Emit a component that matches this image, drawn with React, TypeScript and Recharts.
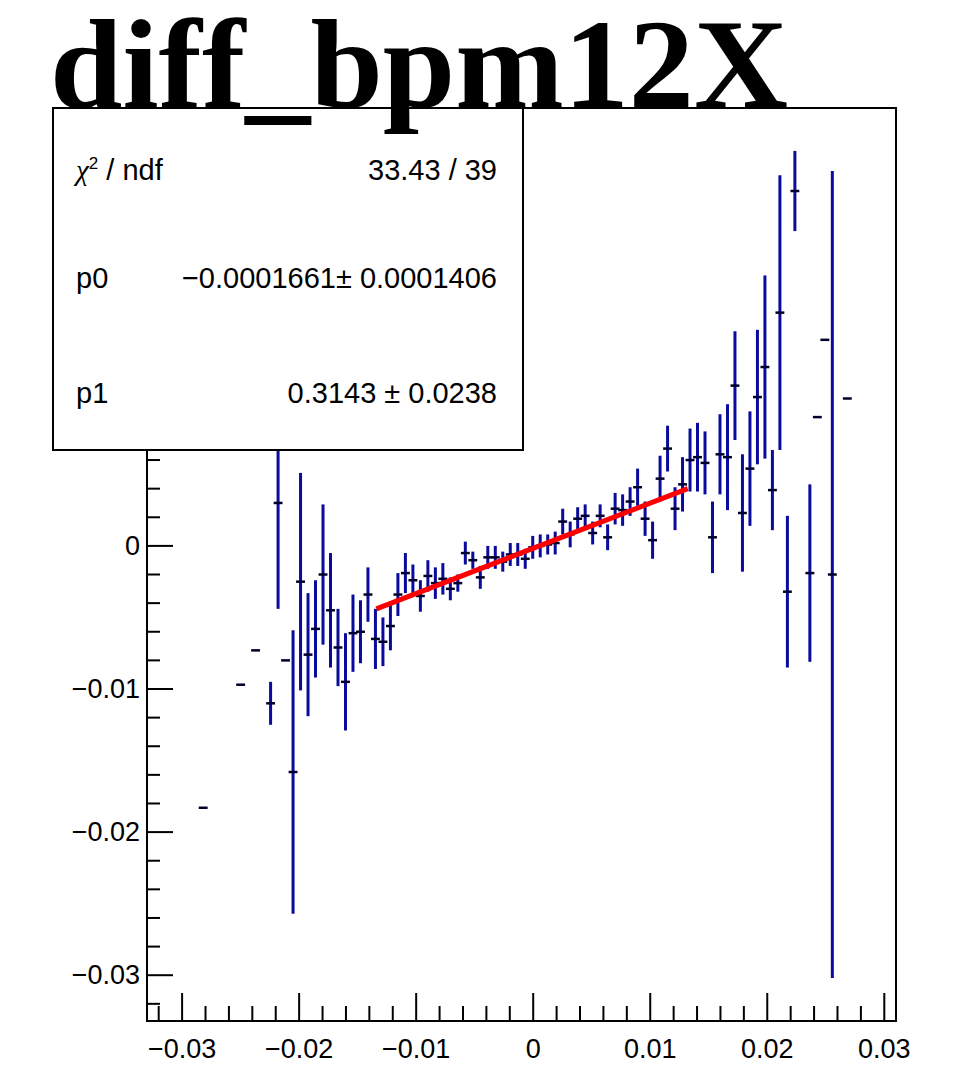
import React from 'react';
import { ComposedChart, Scatter, ErrorBar, Line, XAxis, YAxis, ReferenceArea } from 'recharts';

// bin centres (profile bins, 0.00064 wide), bin means and errors
const binX = [
  -0.0282, -0.025, -0.02372, -0.02244, -0.0218, -0.02116, -0.02052, -0.01988, -0.01924, -0.0186,
  -0.01796, -0.01732, -0.01668, -0.01604, -0.0154, -0.01476, -0.01412, -0.01348, -0.01284, -0.0122,
  -0.01156, -0.01092, -0.01028, -0.00964, -0.009, -0.00836, -0.00772, -0.00708, -0.00644, -0.0058,
  -0.00516, -0.00452, -0.00388, -0.00324, -0.0026, -0.00196, -0.00132, -0.00068, -0.00004, 0.0006,
  0.00124, 0.00188, 0.00252, 0.00316, 0.0038, 0.00444, 0.00508, 0.00572, 0.00636, 0.007,
  0.00764, 0.00828, 0.00892, 0.00956, 0.0102, 0.01084, 0.01148, 0.01212, 0.01276, 0.0134,
  0.01404, 0.01468, 0.01532, 0.01596, 0.0166, 0.01724, 0.01788, 0.01852, 0.01916, 0.0198,
  0.02044, 0.02108, 0.02172, 0.02236, 0.02364, 0.02428, 0.02492, 0.02556, 0.02684,
];

const binMean = [
  -0.0183, -0.0097, -0.0073, -0.011, 0.003, -0.008, -0.0158, -0.0025, -0.0076, -0.0058,
  -0.002, -0.0045, -0.0071, -0.0095, -0.0061, -0.006, -0.0034, -0.0065, -0.0067, -0.0056,
  -0.0034, -0.0019, -0.0024, -0.0035, -0.0021, -0.0026, -0.0023, -0.003, -0.0026, -0.0005,
  -0.001, -0.0022, -0.0008, -0.0008, -0.0011, -0.0006, -0.0006, -0.0009, -0.0001, 0.0,
  0.0001, 0.0002, 0.0017, 0.0008, 0.0019, 0.0021, 0.0009, 0.0021, 0.0006, 0.0026,
  0.0025, 0.0031, 0.0041, 0.0019, 0.0004, 0.0047, 0.0068, 0.0026, 0.0043, 0.006,
  0.0062, 0.0058, 0.0006, 0.0064, 0.0062, 0.0112, 0.0023, 0.0054, 0.0104, 0.0125,
  0.0039, 0.0163, -0.0032, 0.0248, -0.0019, 0.009, 0.0144, -0.002, 0.0103,
];

const binErr = [
  0, 0, 0, 0.0015, 0.0074, 0, 0.0099, 0.0076, 0.0043, 0.0034,
  0.0049, 0.004, 0.0027, 0.0034, 0.0027, 0.0022, 0.0019, 0.0021, 0.0017, 0.0017,
  0.0015, 0.0014, 0.0011, 0.0011, 0.0011, 0.0011, 0.0011, 0.0008, 0.0006, 0.0008,
  0.0006, 0.0008, 0.0008, 0.0008, 0.0007, 0.0008, 0.0008, 0.0007, 0.0008, 0.0008,
  0.0007, 0.0008, 0.0009, 0.0009, 0.0008, 0.0008, 0.0008, 0.0008, 0.0009, 0.0011,
  0.0011, 0.001, 0.0013, 0.0012, 0.0013, 0.0016, 0.0016, 0.0015, 0.0019, 0.0022,
  0.0024, 0.0022, 0.0025, 0.0028, 0.0037, 0.0038, 0.0041, 0.004, 0.0047, 0.0064,
  0.0028, 0.0096, 0.0053, 0.0028, 0.0062, 0, 0, 0.0282, 0,
];

const X_HALF = 0.00038;

// fitted pol1 as drawn over its fit range
const fitX = [-0.0134, 0.0132];
const fitY = [-0.0044, 0.004];

const xTicks = [
  -0.032, -0.03, -0.028, -0.026, -0.024, -0.022, -0.02, -0.018, -0.016, -0.014, -0.012, -0.01,
  -0.008, -0.006, -0.004, -0.002, 0, 0.002, 0.004, 0.006, 0.008, 0.01, 0.012, 0.014, 0.016,
  0.018, 0.02, 0.022, 0.024, 0.026, 0.028, 0.03,
];
const yTicks = [
  -0.032, -0.03, -0.028, -0.026, -0.024, -0.022, -0.02, -0.018, -0.016, -0.014, -0.012, -0.01,
  -0.008, -0.006, -0.004, -0.002, 0, 0.002, 0.004, 0.006, 0.008, 0.01, 0.012, 0.014, 0.016,
  0.018, 0.02, 0.022, 0.024, 0.026, 0.028, 0.03,
];

const statLabels = ['p0', 'p1'];
const statValues = ['33.43 / 39', '\u22120.0001661\u00b1 0.0001406', '0.3143 \u00b1 0.0238'];

const X_DOMAIN: [number, number] = [-0.033, 0.031];
const Y_DOMAIN: [number, number] = [-0.0332, 0.0306];

const SANS = "'Liberation Sans', Arial, Helvetica, sans-serif";
const SERIF = "'Liberation Serif', 'Times New Roman', serif";

const isMajor = (v: number) => Math.abs(Math.round(v * 100) - v * 100) < 1e-6;
const fmtTick = (v: number) =>
  Math.abs(v) < 1e-9 ? '0' : (v < 0 ? '\u2212' : '') + Math.abs(v).toFixed(2);

const XTick = (props: any) => {
  const { x, y, payload } = props;
  const major = isMajor(payload.value);
  return (
    <g>
      <line x1={x} y1={y} x2={x} y2={y - (major ? 28 : 15)} stroke="#000" strokeWidth={2} />
      {major && (
        <text x={x} y={y + 37} textAnchor="middle" fontFamily={SANS} fontSize={27} fill="#000">
          {fmtTick(payload.value)}
        </text>
      )}
    </g>
  );
};

const YTick = (props: any) => {
  const { x, y, payload } = props;
  const major = isMajor(payload.value);
  // labels above zero sit under the stats box, as in the original
  const showLabel = major && payload.value <= 0;
  return (
    <g>
      <line x1={x} y1={y} x2={x + (major ? 26 : 13)} y2={y} stroke="#000" strokeWidth={2} />
      {showLabel && (
        <text x={x - 7} y={y + 9} textAnchor="end" fontFamily={SANS} fontSize={27} fill="#000">
          {fmtTick(payload.value)}
        </text>
      )}
    </g>
  );
};

export default function App() {
  const points = binX.map((x, i) => ({ x, y: binMean[i], ey: binErr[i], ex: X_HALF }));
  const fitLine = fitX.map((x, i) => ({ x, y: fitY[i] }));

  return (
    <div style={{ position: 'absolute', left: 0, top: 0, width: 964, height: 1083, background: '#fff' }}>
      <ComposedChart width={964} height={1083} margin={{ top: 108, right: 68, bottom: 12, left: 67 }}>
        <XAxis
          type="number"
          dataKey="x"
          domain={X_DOMAIN}
          ticks={xTicks}
          interval={0}
          allowDataOverflow
          height={50}
          tickSize={0}
          tickMargin={0}
          tickLine={false}
          axisLine={{ stroke: '#000', strokeWidth: 2 }}
          tick={<XTick />}
        />
        <YAxis
          type="number"
          dataKey="y"
          domain={Y_DOMAIN}
          ticks={yTicks}
          interval={0}
          allowDataOverflow
          width={80}
          tickSize={0}
          tickMargin={0}
          tickLine={false}
          axisLine={{ stroke: '#000', strokeWidth: 2 }}
          tick={<YTick />}
        />
        <ReferenceArea
          x1={X_DOMAIN[0]}
          x2={X_DOMAIN[1]}
          y1={Y_DOMAIN[0]}
          y2={Y_DOMAIN[1]}
          fill="none"
          stroke="#000"
          strokeWidth={2}
        />
        <Scatter data={points} dataKey="y" isAnimationActive={false} shape={() => <g />}>
          <ErrorBar dataKey="ey" direction="y" width={0} stroke="#0a0a9c" strokeWidth={3} isAnimationActive={false} />
          <ErrorBar dataKey="ex" direction="x" width={0} stroke="#00002a" strokeWidth={2.5} isAnimationActive={false} />
        </Scatter>
        <Line
          data={fitLine}
          dataKey="y"
          stroke="#ff0000"
          strokeWidth={5}
          dot={false}
          activeDot={false}
          isAnimationActive={false}
        />
      </ComposedChart>

      {/* fit statistics box and title, drawn over the frame like ROOT does */}
      <svg
        width={964}
        height={1083}
        style={{ position: 'absolute', left: 0, top: 0, pointerEvents: 'none' }}
      >
        <rect x={53} y={108} width={470} height={342} fill="#fff" stroke="#000" strokeWidth={2} />
        <text x={76} y={180} fontFamily={SANS} fontSize={29} fill="#000">
          <tspan fontFamily={SERIF} fontStyle="italic">{'\u03c7'}</tspan>
          <tspan dy={-11} fontSize={17}>2</tspan>
          <tspan dy={11}>{' / ndf'}</tspan>
        </text>
        <text x={497} y={180} textAnchor="end" fontFamily={SANS} fontSize={29} fill="#000">
          {statValues[0]}
        </text>
        <text x={76} y={288} fontFamily={SANS} fontSize={29} fill="#000">{statLabels[0]}</text>
        <text x={497} y={288} textAnchor="end" fontFamily={SANS} fontSize={29} fill="#000">
          {statValues[1]}
        </text>
        <text x={76} y={403} fontFamily={SANS} fontSize={29} fill="#000">{statLabels[1]}</text>
        <text x={497} y={403} textAnchor="end" fontFamily={SANS} fontSize={29} fill="#000">
          {statValues[2]}
        </text>
        <text
          x={50}
          y={107}
          fontFamily={SERIF}
          fontWeight="bold"
          fontSize={128}
          textLength={738}
          lengthAdjust="spacingAndGlyphs"
          fill="#000"
        >
          diff_bpm12X
        </text>
      </svg>
    </div>
  );
}
